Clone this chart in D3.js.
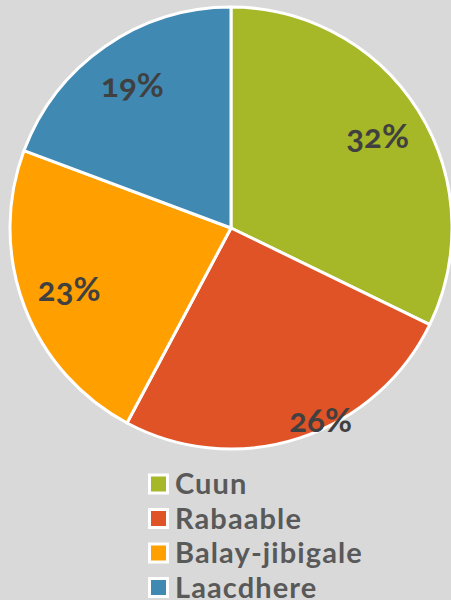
<!DOCTYPE html>
<html>
<head>
<meta charset="utf-8">
<script src="https://cdn.jsdelivr.net/npm/d3@7"></script>
<style>
  body { margin: 0; background: #d9d9d9; }
  svg { display: block; }
</style>
</head>
<body>
<div id="chart"></div>
<script>
// Qaybaha iyo boqolleyda
const categories = ["Cuun", "Rabaable", "Balay-jibigale", "Laacdhere"];
const values = [32.2, 25.6, 22.9, 19.3];
const colors = ["#a6b727", "#e05326", "#ff9f00", "#3f89b3"];

const width = 451, height = 600;
const cx = 231, cy = 228, radius = 221;

const svg = d3.select("#chart")
    .append("svg")
    .attr("width", width)
    .attr("height", height);

svg.append("rect")
    .attr("width", width)
    .attr("height", height)
    .attr("fill", "#d9d9d9");

const pie = d3.pie().sort(null).value(d => d);
const arcs = pie(values);

const arc = d3.arc().innerRadius(0).outerRadius(radius);

const g = svg.append("g")
    .attr("transform", `translate(${cx},${cy})`);

g.selectAll("path")
    .data(arcs)
    .enter()
    .append("path")
    .attr("d", arc)
    .attr("fill", (d, i) => colors[i])
    .attr("stroke", "#ffffff")
    .attr("stroke-width", 3)
    .attr("stroke-linejoin", "round");

// calaamadaha boqolleyda (26% waxaa lagu riixay xagga bannaanka)
const labelR = i => i === 1 ? 212 : 173;
const labelShift = i => i === 1 ? -7 * Math.PI / 180 : 0;
g.selectAll("text.lbl")
    .data(arcs)
    .enter()
    .append("text")
    .attr("class", "lbl")
    .attr("transform", (d, i) => {
        const a = (d.startAngle + d.endAngle) / 2 + labelShift(i);
        return `translate(${Math.sin(a) * labelR(i)},${-Math.cos(a) * labelR(i)})`;
    })
    .attr("text-anchor", "middle")
    .attr("dy", "0.35em")
    .style("font-family", "Lato, 'Open Sans', sans-serif")
    .style("font-weight", "bold")
    .style("font-size", "33px")
    .style("font-variant-numeric", "oldstyle-nums")
    .style("fill", "#404040")
    .text(d => Math.round(d.data) + "%");

// sharaxaad
const legend = svg.append("g")
    .attr("transform", "translate(148,484)");

const rows = legend.selectAll("g")
    .data(categories)
    .enter()
    .append("g")
    .attr("transform", (d, i) => `translate(0,${i * 34.5})`);

rows.append("rect")
    .attr("x", 1.5)
    .attr("y", -9)
    .attr("width", 18)
    .attr("height", 18)
    .attr("fill", (d, i) => colors[i])
    .attr("stroke", "#ffffff")
    .attr("stroke-width", 3);

rows.append("text")
    .attr("x", 27)
    .attr("dy", "0.36em")
    .style("font-family", "Lato, 'Open Sans', sans-serif")
    .style("font-weight", "bold")
    .style("font-size", "29px")
    .style("letter-spacing", "1.1px")
    .style("fill", "#595959")
    .text(d => d);
</script>
</body>
</html>
